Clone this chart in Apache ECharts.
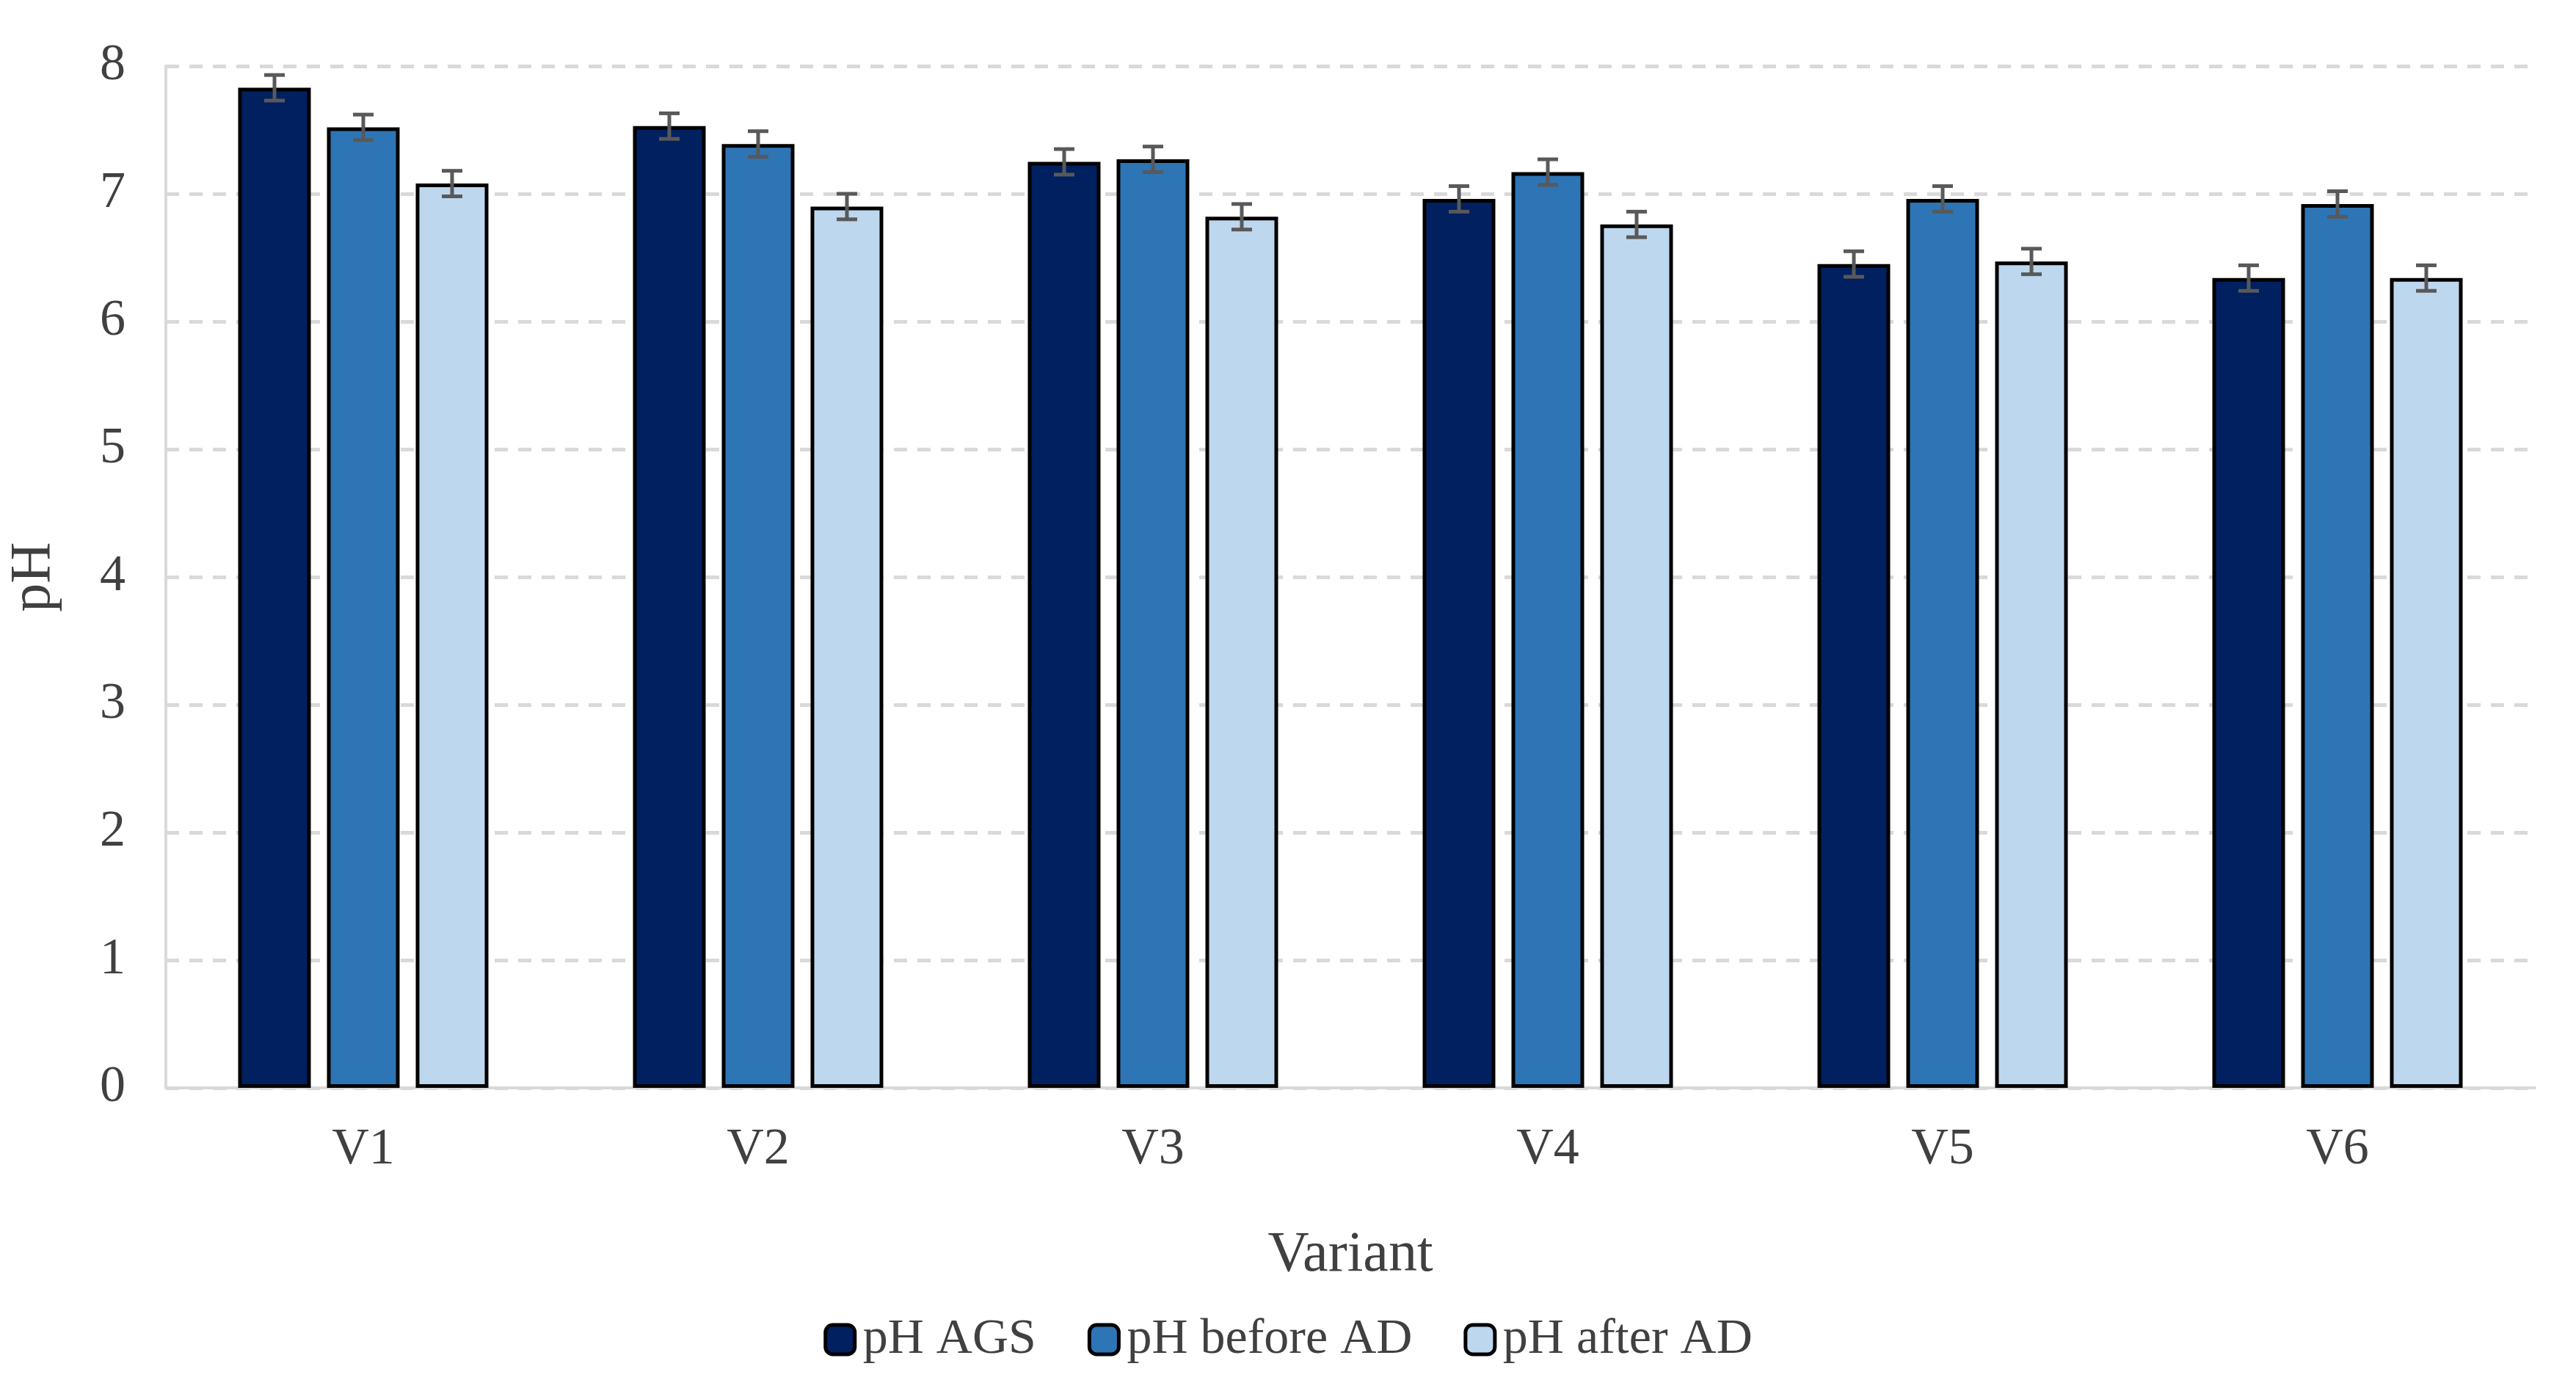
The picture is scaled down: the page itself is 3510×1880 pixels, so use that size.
<!DOCTYPE html>
<html><head><meta charset="utf-8">
<script src="https://cdn.jsdelivr.net/npm/echarts@6/dist/echarts.min.js"></script>
<style>html,body{margin:0;padding:0;background:#fff}#c{width:3510px;height:1880px}</style>
</head><body><div id="c"></div>
<script>
const categories = ['V1', 'V2', 'V3', 'V4', 'V5', 'V6'];
const seriesNames = ['pH AGS', 'pH before AD', 'pH after AD'];
const phAgs = [7.83, 7.53, 7.25, 6.96, 6.45, 6.34];
const phBefore = [7.52, 7.39, 7.27, 7.17, 6.96, 6.92];
const phAfter = [7.08, 6.90, 6.82, 6.76, 6.47, 6.34];
const errAgs = [0.1, 0.1, 0.1, 0.1, 0.1, 0.1];
const errBefore = [0.1, 0.1, 0.1, 0.1, 0.1, 0.1];
const errAfter = [0.1, 0.1, 0.1, 0.1, 0.1, 0.1];
const colors = ['#002060', '#2E75B6', '#BDD7EE'];

const BAR_W = 99, GAP = 22;
const font = 'Liberation Serif';
const values = [phAgs, phBefore, phAfter];
const errs = [errAgs, errBefore, errAfter];

const bars = values.map((v, i) => ({
  name: seriesNames[i], type: 'bar', data: v, barWidth: BAR_W, barGap: (GAP / BAR_W * 100) + '%',
  itemStyle: { color: colors[i], borderColor: '#000', borderWidth: 5 }
}));

const errorSeries = values.map((v, i) => ({
  type: 'custom', silent: true, z: 10,
  data: v.map((y, k) => [k, y - errs[i][k], y + errs[i][k]]),
  renderItem: function (params, api) {
    const off = (i - 1) * (BAR_W + GAP);
    const lo = api.coord([api.value(0), api.value(1)]);
    const hi = api.coord([api.value(0), api.value(2)]);
    const x = lo[0] + off, w = 14;
    const st = { stroke: '#595959', lineWidth: 5 };
    return { type: 'group', children: [
      { type: 'line', shape: { x1: x, y1: lo[1], x2: x, y2: hi[1] }, style: st },
      { type: 'line', shape: { x1: x - w, y1: lo[1], x2: x + w, y2: lo[1] }, style: st },
      { type: 'line', shape: { x1: x - w, y1: hi[1], x2: x + w, y2: hi[1] }, style: st }
    ]};
  }
}));

const chart = echarts.init(document.getElementById('c'));
chart.setOption({
  animation: false,
  textStyle: { fontFamily: font },
  grid: { left: 225, right: 56, top: 90, bottom: 398 },
  legend: {
    data: seriesNames, bottom: 16, itemWidth: 40, itemHeight: 40, itemGap: 70,
    textStyle: { fontSize: 68, color: '#404040', fontFamily: font, padding: [0, 0, 0, 6] },
    itemStyle: { borderColor: '#000', borderWidth: 5 }
  },
  xAxis: {
    type: 'category', data: categories,
    name: 'Variant', nameLocation: 'middle', nameGap: 190,
    nameTextStyle: { fontSize: 78, color: '#404040', fontFamily: font },
    axisLine: { lineStyle: { color: '#d9d9d9', width: 4 } },
    axisTick: { show: false },
    axisLabel: { fontSize: 70, color: '#404040', margin: 50, fontFamily: font }
  },
  yAxis: {
    type: 'value', min: 0, max: 8, interval: 1,
    name: 'pH', nameLocation: 'middle', nameGap: 140,
    nameTextStyle: { fontSize: 78, color: '#404040', fontFamily: font },
    axisLine: { show: true, lineStyle: { color: '#d9d9d9', width: 4 } },
    axisLabel: { fontSize: 70, color: '#404040', margin: 55, fontFamily: font },
    splitLine: { lineStyle: { color: '#d9d9d9', width: 5, type: [18, 14] } }
  },
  series: bars.concat(errorSeries)
});
</script></body></html>
